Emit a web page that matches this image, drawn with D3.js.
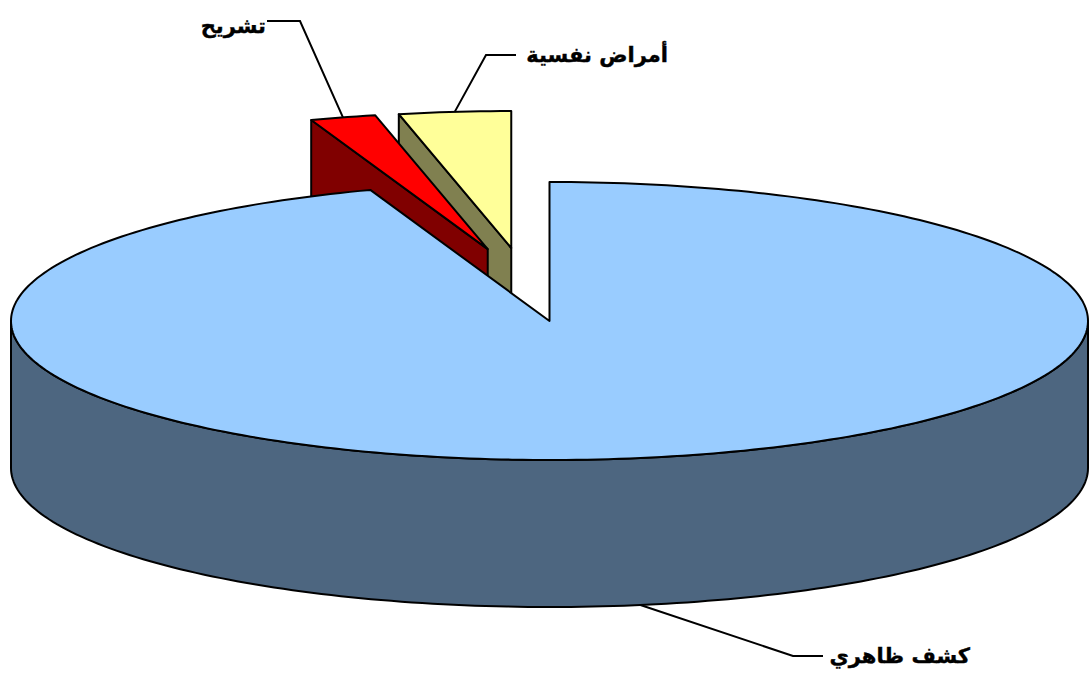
<!DOCTYPE html>
<html lang="ar">
<head>
<meta charset="utf-8">
<script src="https://cdn.jsdelivr.net/npm/d3@7"></script>
<style>
  html, body { margin: 0; padding: 0; background: #fff; overflow: hidden; }
  .label { font-family: "DejaVu Sans", sans-serif; font-weight: bold; font-size: 21px; fill: #000; stroke: #000; stroke-width: 0.4px; }
</style>
</head>
<body>
<div id="chart"></div>
<script>
// data, clockwise from 12 o'clock
var categories = ["كشف ظاهري", "تشريح", "أمراض نفسية"];
var values = [94.6, 2.0, 3.4];

var topColors = ["#99CCFF", "#FF0000", "#FFFF99"];
var sideColors = ["#4D6680", "#800000", "#808050"];

// how far each slice is pulled out, and in which direction (degrees off 12 o'clock)
var explode = [0, 0.53, 0.53];
var explodeDir = [0, -12.5, -7.7];
// the pulled out slices come out a touch smaller
var radius = [1, 0.985, 0.985];

// leader line knee, leader end and label spot
var knees = [[793, 656], [300, 21], [486, 55]];
var leaderEnds = [823, 267, 516];
var labelPos = [[970, 657], [266, 27], [668, 56]];

var svgWidth = 1089;
var svgHeight = 677;
var depth = 147;

var svg = d3.select("#chart")
  .append("svg")
  .attr("width", svgWidth)
  .attr("height", svgHeight)
  .style("display", "block");

// the tilted circle: unit circle coords to pixels
var xScale = d3.scaleLinear().domain([-1, 1]).range([11, 1088]);
var yScale = d3.scaleLinear().domain([-1, 1]).range([460, 182]);

var pie = d3.pie().sort(null).value(d => d);
var slices = pie(values).map(function(s, i) {
  var dir = explodeDir[i] * Math.PI / 180;
  s.index = i;
  s.dx = explode[i] * Math.sin(dir);
  s.dy = explode[i] * Math.cos(dir);
  s.r = radius[i];
  return s;
});

function pt(s, a, r, drop) {
  return [
    xScale(s.dx + r * Math.sin(a)),
    yScale(s.dy + r * Math.cos(a)) + (drop || 0)
  ];
}

function arcPoints(s, a0, a1, drop) {
  var n = Math.max(2, Math.ceil(Math.abs(a1 - a0) / 0.02));
  return d3.range(n + 1).map(i => pt(s, a0 + (a1 - a0) * i / n, s.r, drop));
}

var line = d3.line();

function drawShape(points, fill) {
  svg.append("path")
    .attr("d", line(points) + "Z")
    .attr("fill", fill)
    .attr("stroke", "#000")
    .attr("stroke-width", 2)
    .attr("stroke-linejoin", "round");
}

// back slices first, the big one goes on top of them
[slices[2], slices[1], slices[0]].forEach(function(s) {
  var color = sideColors[s.index];

  if (s.index === 0) {
    // outer wall, only the front half shows
    var front = arcPoints(s, Math.PI / 2, 3 * Math.PI / 2, 0);
    var back = arcPoints(s, 3 * Math.PI / 2, Math.PI / 2, depth);
    drawShape(front.concat(back), color);
  } else {
    // cut face on the left of the slice
    var apex = pt(s, 0, 0, 0);
    var rim = pt(s, s.startAngle, s.r, 0);
    drawShape([apex, rim, [rim[0], rim[1] + depth], [apex[0], apex[1] + depth]], color);
  }

  var topFace = [pt(s, 0, 0, 0)].concat(arcPoints(s, s.startAngle, s.endAngle, 0));
  drawShape(topFace, topColors[s.index]);
});

// leader lines and labels
slices.forEach(function(s) {
  var mid = (s.startAngle + s.endAngle) / 2;
  var i = s.index;
  var start = pt(s, mid, s.r, i === 0 ? depth : 0);

  svg.append("path")
    .attr("d", line([start, knees[i], [leaderEnds[i], knees[i][1]]]))
    .attr("fill", "none")
    .attr("stroke", "#000")
    .attr("stroke-width", 2);

  svg.append("text")
    .attr("class", "label")
    .attr("x", labelPos[i][0])
    .attr("y", labelPos[i][1])
    .attr("text-anchor", "end")
    .attr("dominant-baseline", "middle")
    .text(categories[i]);
});
</script>
</body>
</html>
